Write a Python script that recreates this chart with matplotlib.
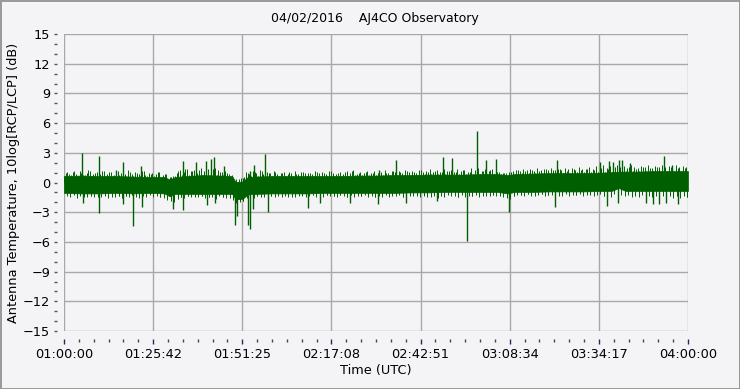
import numpy as np
import matplotlib.pyplot as plt
from matplotlib.ticker import MultipleLocator

# time axis in minutes after 01:00:00 UTC
x_labels = ['01:00:00', '01:25:42', '01:51:25', '02:17:08', '02:42:51', '03:08:34', '03:34:17', '04:00:00']

# solid part of the noise band (dB)
core_t = [0, 5, 10, 15, 20, 25, 29, 30.5, 32, 35, 40, 45, 48.5, 49.5, 51.5, 53, 55, 60, 65, 70, 75,
          80, 85, 90, 95, 100, 105, 110, 115, 120, 125, 128, 130, 135, 140, 145, 150, 155, 158,
          160, 162, 165, 170, 175, 180]
core_hi = [0.65, 0.7, 0.65, 0.65, 0.6, 0.55, 0.55, 0.3, 0.55, 0.65, 0.75, 0.7, 0.65, 0.05, 0.1, 0.55,
           0.6, 0.65, 0.65, 0.65, 0.65, 0.65, 0.7, 0.7, 0.75, 0.75, 0.8, 0.8, 0.8, 0.85, 0.85, 0.75,
           0.85, 0.9, 0.95, 0.95, 0.95, 1.0, 1.05, 1.1, 1.1, 1.1, 1.15, 1.15, 1.15]
core_lo = [-1.05, -1.1, -1.1, -1.05, -1.1, -1.05, -1.1, -1.4, -1.15, -1.15, -1.15, -1.15, -1.15,
           -1.7, -1.65, -1.2, -1.15, -1.1, -1.1, -1.1, -1.05, -1.05, -1.05, -1.05, -1.05, -1.0,
           -1.0, -0.95, -0.95, -0.95, -0.95, -1.1, -0.95, -0.95, -0.9, -0.9, -0.9, -0.85, -0.85,
           -0.55, -0.85, -0.85, -0.85, -0.85, -0.85]

# ragged edge, first set: one value per minute (t = 0.5, 1.5, ...)
edge_a_up = [0.95, 0.85, 1.1, 0.9, 1.15, 0.8, 1.0, 1.2, 0.9, 1.05,
             0.85, 1.15, 0.9, 1.05, 0.8, 1.2, 0.95, 0.9, 1.25, 0.85,
             1.05, 0.9, 1.15, 0.8, 1.0, 0.95, 0.85, 1.05, 0.75, 0.9,
             0.6, 0.7, 0.95, 1.25, 1.05, 1.4, 1.15, 1.3, 1.0, 1.45,
             1.2, 1.4, 1.15, 1.5, 1.3, 1.05, 1.2, 0.9, 0.8, 0.35,
             0.4, 0.5, 1.05, 0.9, 1.15, 1.0, 1.25, 0.9, 1.05, 0.95,
             1.15, 0.9, 1.0, 1.1, 0.85, 0.95, 1.15, 0.9, 1.05, 0.95,
             1.0, 0.85, 1.15, 0.95, 1.05, 0.9, 1.2, 1.0, 0.85, 1.1,
             0.9, 1.15, 1.0, 1.25, 0.9, 1.05, 0.95, 1.15, 1.0, 1.2,
             1.0, 1.1, 1.3, 0.95, 1.2, 1.05, 1.15, 0.95, 1.25, 1.05,
             1.15, 1.0, 1.3, 1.05, 1.2, 1.4, 1.1, 1.25, 1.05, 1.35,
             1.15, 1.3, 1.1, 1.4, 1.2, 1.3, 1.1, 1.45, 1.25, 1.5,
             1.2, 1.35, 1.15, 1.4, 1.25, 1.1, 1.0, 0.95, 1.05, 1.2,
             1.3, 1.15, 1.4, 1.25, 1.35, 1.2, 1.5, 1.3, 1.4, 1.3,
             1.5, 1.3, 1.4, 1.25, 1.5, 1.35, 1.45, 1.3, 1.55, 1.4,
             1.4, 1.55, 1.35, 1.7, 1.45, 1.75, 1.5, 1.65, 1.45, 1.8,
             1.55, 1.7, 1.5, 1.75, 1.6, 1.45, 1.7, 1.55, 1.75, 1.5,
             1.65, 1.55, 1.8, 1.6, 1.7, 1.5, 1.75, 1.6, 1.65, 1.55]
edge_a_dn = [-1.35, -1.5, -1.3, -1.55, -1.4, -1.3, -1.5, -1.35, -1.45, -1.3,
             -1.5, -1.35, -1.55, -1.3, -1.45, -1.4, -1.6, -1.35, -1.5, -1.3,
             -1.45, -1.55, -1.35, -1.5, -1.3, -1.5, -1.4, -1.5, -1.6, -1.75,
             -1.9, -2.0, -1.65, -1.5, -1.55, -1.4, -1.5, -1.35, -1.5, -1.4,
             -1.55, -1.45, -1.5, -1.65, -1.4, -1.5, -1.55, -1.6, -1.8, -2.1,
             -2.0, -1.9, -1.6, -1.5, -1.6, -1.4, -1.5, -1.35, -1.5, -1.4,
             -1.45, -1.3, -1.5, -1.35, -1.45, -1.3, -1.5, -1.4, -1.35, -1.5,
             -1.4, -1.3, -1.45, -1.35, -1.5, -1.3, -1.4, -1.35, -1.45, -1.3,
             -1.4, -1.5, -1.3, -1.45, -1.35, -1.4, -1.3, -1.5, -1.35, -1.45,
             -1.35, -1.45, -1.3, -1.5, -1.35, -1.4, -1.3, -1.45, -1.5, -1.35,
             -1.4, -1.3, -1.45, -1.35, -1.5, -1.3, -1.4, -1.55, -1.35, -1.45,
             -1.3, -1.4, -1.35, -1.5, -1.3, -1.45, -1.35, -1.4, -1.3, -1.45,
             -1.35, -1.3, -1.4, -1.25, -1.35, -1.3, -1.45, -1.6, -1.7, -1.4,
             -1.3, -1.25, -1.4, -1.2, -1.35, -1.25, -1.3, -1.2, -1.4, -1.25,
             -1.3, -1.2, -1.35, -1.25, -1.2, -1.35, -1.25, -1.3, -1.2, -1.35,
             -1.25, -1.2, -1.35, -1.3, -1.2, -1.4, -1.3, -1.5, -1.2, -1.45,
             -1.3, -1.4, -1.25, -1.5, -1.35, -1.45, -1.3, -1.55, -1.4, -1.5,
             -1.35, -1.6, -1.4, -1.5, -1.35, -1.55, -1.4, -1.6, -1.35, -1.5]

# ragged edge, second set: one value per minute (t = 0, 1, 2, ...)
edge_b_up = [0.7, 1.05, 0.75, 1.2, 0.7, 0.95, 0.8, 1.25, 0.7, 1.0,
             0.75, 1.15, 0.7, 1.05, 0.65, 1.2, 0.75, 0.95, 0.7, 1.1,
             0.7, 1.0, 0.65, 1.15, 0.7, 0.9, 0.65, 1.05, 0.6, 0.85,
             0.35, 0.6, 0.7, 1.2, 0.75, 1.35, 0.8, 1.15, 0.75, 1.3,
             0.8, 1.2, 0.8, 1.4, 0.75, 1.1, 0.75, 0.95, 0.6, 0.15,
             0.1, 0.5, 0.6, 1.0, 0.7, 1.1, 0.7, 1.15, 0.7, 0.95,
             0.7, 1.05, 0.7, 0.95, 0.7, 1.1, 0.7, 0.9, 0.7, 1.05,
             0.7, 0.95, 0.7, 1.1, 0.7, 1.0, 0.7, 1.15, 0.7, 0.95,
             0.7, 1.05, 0.7, 1.15, 0.75, 0.95, 0.75, 1.1, 0.75, 1.0,
             0.75, 1.15, 0.75, 1.0, 0.75, 1.2, 0.8, 1.05, 0.8, 1.15,
             0.8, 1.1, 0.8, 1.25, 0.85, 1.05, 0.85, 1.2, 0.85, 1.1,
             0.85, 1.2, 0.85, 1.05, 0.85, 1.3, 0.9, 1.1, 0.9, 1.25,
             0.9, 1.15, 0.9, 1.3, 0.9, 1.05, 0.85, 0.95, 0.8, 1.1,
             0.9, 1.25, 0.95, 1.15, 0.95, 1.3, 1.0, 1.2, 1.0, 1.35,
             1.0, 1.25, 1.0, 1.4, 1.0, 1.2, 1.0, 1.35, 1.05, 1.25,
             1.05, 1.4, 1.05, 1.3, 1.05, 1.5, 1.1, 1.35, 1.1, 1.55,
             1.15, 1.45, 1.15, 1.6, 1.15, 1.4, 1.2, 1.55, 1.2, 1.45,
             1.2, 1.6, 1.2, 1.45, 1.2, 1.55, 1.2, 1.5, 1.2, 1.45]
edge_b_dn = [-1.1, -1.4, -1.15, -1.3, -1.1, -1.5, -1.15, -1.35, -1.1, -1.45,
             -1.15, -1.3, -1.1, -1.5, -1.15, -1.35, -1.1, -1.4, -1.15, -1.3,
             -1.15, -1.45, -1.1, -1.35, -1.1, -1.3, -1.15, -1.45, -1.3, -1.6,
             -1.5, -1.7, -1.3, -1.45, -1.2, -1.4, -1.2, -1.5, -1.2, -1.35,
             -1.2, -1.45, -1.2, -1.35, -1.2, -1.5, -1.25, -1.4, -1.5, -1.85,
             -1.75, -1.9, -1.3, -1.5, -1.25, -1.4, -1.2, -1.5, -1.15, -1.35,
             -1.15, -1.4, -1.15, -1.3, -1.15, -1.45, -1.15, -1.3, -1.15, -1.4,
             -1.15, -1.3, -1.1, -1.45, -1.1, -1.3, -1.1, -1.4, -1.1, -1.3,
             -1.1, -1.45, -1.1, -1.3, -1.1, -1.4, -1.1, -1.3, -1.1, -1.45,
             -1.1, -1.3, -1.1, -1.4, -1.1, -1.3, -1.05, -1.45, -1.05, -1.3,
             -1.05, -1.4, -1.05, -1.3, -1.05, -1.45, -1.05, -1.3, -1.0, -1.4,
             -1.0, -1.3, -1.0, -1.45, -1.0, -1.3, -1.0, -1.4, -1.0, -1.3,
             -1.0, -1.4, -1.0, -1.3, -1.0, -1.35, -1.05, -1.5, -1.2, -1.35,
             -1.0, -1.3, -1.0, -1.2, -0.95, -1.35, -0.95, -1.2, -0.95, -1.3,
             -0.95, -1.25, -0.95, -1.35, -0.95, -1.2, -0.95, -1.3, -0.95, -1.2,
             -0.95, -1.3, -0.9, -1.2, -0.9, -1.35, -0.9, -1.25, -0.7, -1.1,
             -0.75, -1.3, -0.9, -1.4, -0.9, -1.3, -0.9, -1.45, -0.9, -1.3,
             -0.9, -1.45, -0.9, -1.35, -0.9, -1.45, -0.9, -1.4, -0.9, -1.45]

# isolated spikes (minutes, dB)
spike_up_t = [5.3, 10.2, 15.0, 17.1, 22.3, 34.4, 38.1, 40.9, 42.3, 43.3, 46.2, 53.7, 54.8, 58.1,
              91.0, 95.7, 109.2, 112.0, 119.2, 121.6, 124.7, 142.2, 154.7, 157.1, 158.5, 160.0,
              161.0, 163.3, 173.2, 175.3]
spike_up_v = [3.0, 2.7, 1.3, 2.05, 1.65, 2.2, 2.1, 2.2, 2.4, 2.6, 1.7, 1.15, 1.8, 2.9,
              1.3, 2.3, 2.6, 2.5, 5.25, 2.3, 2.4, 2.3, 2.05, 2.15, 2.05, 2.3,
              2.25, 2.0, 2.65, 1.8]
spike_dn_t = [5.4, 10.2, 17.1, 20.0, 22.4, 31.5, 34.4, 41.2, 43.6, 49.4, 49.8, 53.1, 53.7, 54.6,
              58.8, 70.5, 73.8, 82.5, 90.7, 98.8, 107.5, 116.3, 128.5, 141.6, 156.5, 159.9,
              168.0, 170.0, 171.7, 173.8, 177.2]
spike_dn_v = [-2.1, -3.06, -2.2, -4.4, -2.45, -2.7, -2.8, -2.3, -2.05, -4.25, -3.4, -4.25, -4.7, -2.7,
              -2.95, -2.55, -2.05, -2.05, -2.2, -2.05, -1.9, -5.9, -3.0, -2.45, -2.4, -2.05,
              -2.05, -2.2, -2.2, -2.1, -2.2]

green = '#005f00'
bg = '#f4f4f6'
plt.rcParams['font.family'] = ['DejaVu Sans']

fig = plt.figure(figsize=(7.4, 3.89), dpi=100, facecolor=bg)
fig.patch.set_edgecolor('#9a9a9a')
fig.patch.set_linewidth(2)
ax = fig.add_axes([0.0865, 0.149, 0.8432, 0.7636])
ax.set_facecolor(bg)

ax.fill_between(core_t, core_lo, core_hi, color=green, lw=0.5, edgecolor=green)
ta = np.arange(len(edge_a_up)) + 0.5
tb = np.arange(len(edge_b_up)) + 0.0
ax.vlines(ta, 0, edge_a_up, color=green, lw=0.7)
ax.vlines(ta + 0.25, 0, edge_a_dn, color=green, lw=0.7)
ax.vlines(tb, 0, edge_b_up, color=green, lw=0.7)
ax.vlines(tb + 0.75, 0, edge_b_dn, color=green, lw=0.7)
ax.vlines(spike_up_t, 0, spike_up_v, color=green, lw=1)
ax.vlines(spike_dn_t, 0, spike_dn_v, color=green, lw=1)

ax.set_xlim(0, 180)
ax.set_ylim(-15, 15)
ax.set_xticks(np.arange(len(x_labels)) * 180 / 7)
ax.set_xticklabels(x_labels)
ax.xaxis.set_minor_locator(MultipleLocator(180 / 42))
ax.set_yticks(range(-15, 16, 3))
ax.yaxis.set_minor_locator(MultipleLocator(1))

ax.grid(True, which='major', color='#a8a8a8', lw=1)
ax.set_axisbelow(True)
for s in ax.spines.values():
    s.set_visible(False)
ax.spines['left'].set_position(('outward', 5))
ax.spines['bottom'].set_position(('outward', 6))

ax.tick_params(axis='x', which='major', length=3.5, width=1, color='#1c2c5c', labelsize=9.3, pad=3)
ax.tick_params(axis='x', which='minor', length=2.5, width=1, color='#444444')
ax.tick_params(axis='y', which='major', length=2, width=1, color='#555555', labelsize=9.3, pad=3)
ax.tick_params(axis='y', which='minor', length=2, width=1, color='#555555')

ax.set_xlabel('Time (UTC)', fontsize=9.3, labelpad=2)
ax.set_ylabel('Antenna Temperature, 10log[RCP/LCP] (dB)', fontsize=9.3, labelpad=2)
fig.text(0.507, 0.953, '04/02/2016    AJ4CO Observatory', ha='center', va='center', fontsize=9)

fig.savefig('out.png', dpi=100, facecolor=bg, edgecolor=fig.get_edgecolor())
